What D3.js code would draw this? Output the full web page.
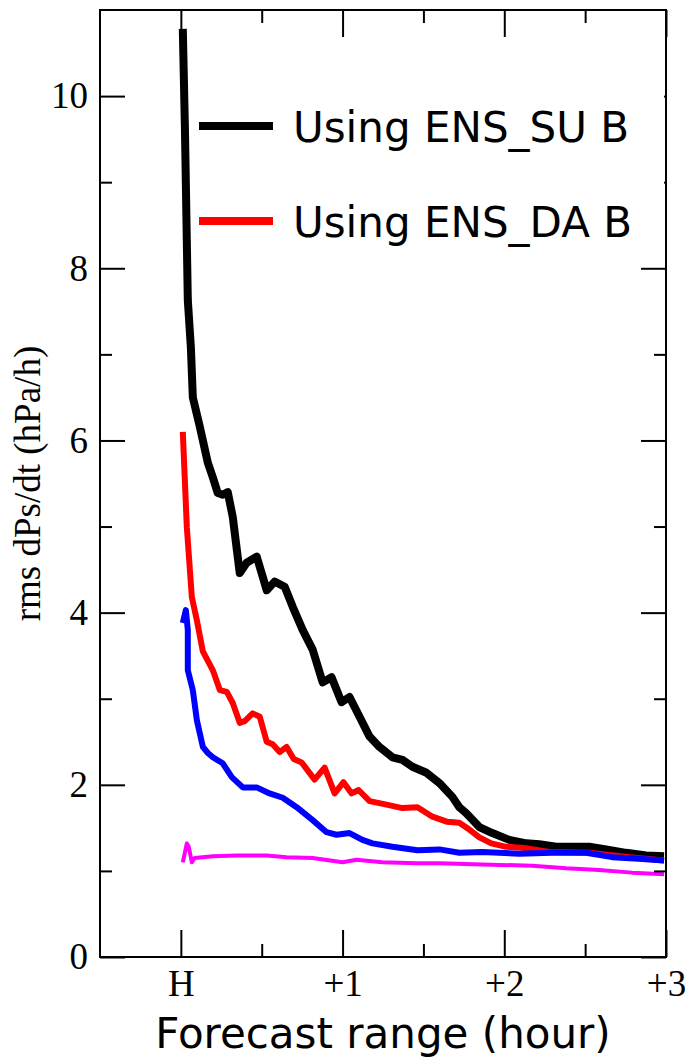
<!DOCTYPE html>
<html>
<head>
<meta charset="utf-8">
<script src="https://cdn.jsdelivr.net/npm/d3@7"></script>
<style>
  body { margin: 0; background: #fff; }
</style>
</head>
<body>
<div id="chart"></div>
<script>
// forecast time (hours after H) and rms dPs/dt (hPa/h)
var suHours = [0.012, 0.025, 0.043, 0.062, 0.074, 0.117, 0.167, 0.198, 0.228, 0.259, 0.29, 0.321, 0.364, 0.407, 0.469,
    0.531, 0.58, 0.642, 0.691, 0.753, 0.815, 0.877, 0.932, 0.994, 1.043, 1.105, 1.167, 1.228, 1.309, 1.37, 1.432,
    1.519, 1.599, 1.679, 1.722, 1.765, 1.846, 1.926, 2.031, 2.136, 2.216, 2.321, 2.525, 2.63, 2.753, 2.877, 2.988];
var suValues = [10.78, 9.64, 7.63, 7.08, 6.50, 6.16, 5.74, 5.57, 5.39, 5.37, 5.40, 5.11, 4.46, 4.58, 4.65,
    4.26, 4.36, 4.30, 4.07, 3.80, 3.57, 3.19, 3.25, 2.96, 3.02, 2.79, 2.56, 2.44, 2.32, 2.29, 2.21,
    2.14, 2.02, 1.86, 1.74, 1.67, 1.51, 1.44, 1.36, 1.32, 1.31, 1.28, 1.28, 1.25, 1.21, 1.18, 1.17];

var daHours = [0.012, 0.037, 0.068, 0.099, 0.136, 0.167, 0.198, 0.241, 0.284, 0.321, 0.364, 0.395, 0.444, 0.488,
    0.531, 0.568, 0.611, 0.654, 0.698, 0.747, 0.827, 0.889, 0.951, 1.006, 1.056, 1.099, 1.167, 1.272, 1.37, 1.463,
    1.556, 1.648, 1.722, 1.784, 1.846, 1.92, 2.012, 2.111, 2.278, 2.525, 2.772, 2.988];
var daValues = [6.10, 4.99, 4.18, 3.91, 3.55, 3.44, 3.33, 3.10, 3.08, 2.95, 2.72, 2.74, 2.83, 2.79,
    2.50, 2.47, 2.38, 2.44, 2.30, 2.26, 2.06, 2.20, 1.90, 2.03, 1.90, 1.94, 1.81, 1.77, 1.73, 1.74,
    1.63, 1.57, 1.56, 1.48, 1.39, 1.32, 1.28, 1.27, 1.22, 1.21, 1.16, 1.12];

var blueHours = [0.012, 0.031, 0.043, 0.043, 0.074, 0.099, 0.136, 0.167, 0.198, 0.259, 0.315, 0.383, 0.469, 0.549,
    0.63, 0.716, 0.815, 0.901, 0.963, 1.043, 1.123, 1.185, 1.309, 1.463, 1.599, 1.722, 1.864, 2.093, 2.296, 2.506,
    2.667, 2.833, 2.988];
var blueValues = [3.88, 4.03, 3.80, 3.33, 3.10, 2.75, 2.44, 2.37, 2.32, 2.25, 2.09, 1.97, 1.97, 1.90,
    1.85, 1.74, 1.59, 1.45, 1.42, 1.44, 1.36, 1.32, 1.28, 1.24, 1.25, 1.21, 1.22, 1.20, 1.21, 1.21,
    1.16, 1.14, 1.12];

var magentaHours = [0.012, 0.037, 0.049, 0.068, 0.086, 0.198, 0.346, 0.531, 0.654, 0.815, 1.0, 1.086, 1.247, 1.463,
    1.599, 1.969, 2.173, 2.383, 2.586, 2.79, 2.988];
var magentaValues = [1.10, 1.32, 1.28, 1.10, 1.15, 1.17, 1.18, 1.18, 1.16, 1.15, 1.10, 1.13, 1.10, 1.09,
    1.09, 1.07, 1.06, 1.03, 1.01, 0.98, 0.96];

var majorX = [0, 1, 2, 3];
var minorX = [0.5, 1.5, 2.5];
var xLabels = ["H", "+1", "+2", "+3"];
var majorY = [0, 2, 4, 6, 8, 10];
var minorY = [1, 3, 5, 7, 9];

var legendNames = ["Using ENS_SU B", "Using ENS_DA B"];

var series = [
    {hours: suHours, values: suValues, color: "#000000", width: 8},
    {hours: daHours, values: daValues, color: "#ff0000", width: 6},
    {hours: blueHours, values: blueValues, color: "#0000ff", width: 6},
    {hours: magentaHours, values: magentaValues, color: "#ff00ff", width: 4}
];

var margin = {top: 10, right: 19, bottom: 102, left: 100};
var width = 685 - margin.left - margin.right,
    height = 1059 - margin.top - margin.bottom;

var svg = d3.select("#chart").append("svg")
    .attr("width", 685)
    .attr("height", 1059);

var g = svg.append("g")
    .attr("transform", "translate(" + margin.left + "," + margin.top + ")");

var x = d3.scaleLinear().domain([-0.5, 3]).range([0, width]);
var y = d3.scaleLinear().domain([0, 11]).range([height, 0]);

var serif = "'Liberation Serif', 'Times New Roman', serif";
var sans = "'DejaVu Sans', sans-serif";

// curves
var line = d3.line()
    .x(function(d){ return x(d[0]); })
    .y(function(d){ return y(d[1]); });

series.forEach(function(s){
    var pts = s.hours.map(function(h, i){ return [h, s.values[i]]; });
    g.append("path")
        .datum(pts)
        .attr("fill", "none")
        .attr("stroke", s.color)
        .attr("stroke-width", s.width)
        .attr("stroke-linejoin", "round")
        .attr("d", line);
});

// axes, ticks pointing inward
function styleAxis(sel){
    sel.select(".domain").remove();
    sel.selectAll(".tick line").attr("stroke", "#000").attr("stroke-width", 2);
    sel.selectAll("text").attr("fill", "#000").style("font-family", serif).style("font-size", "37px");
}

g.append("g")
    .attr("transform", "translate(0," + height + ")")
    .call(d3.axisBottom(x).tickValues(majorX).tickSize(-27).tickPadding(13)
        .tickFormat(function(d, i){ return xLabels[i]; }))
    .call(styleAxis);
g.append("g")
    .attr("transform", "translate(0," + height + ")")
    .call(d3.axisBottom(x).tickValues(minorX).tickSize(-13).tickFormat(""))
    .call(styleAxis);
g.append("g")
    .call(d3.axisTop(x).tickValues(majorX).tickSize(-27).tickFormat(""))
    .call(styleAxis);
g.append("g")
    .call(d3.axisTop(x).tickValues(minorX).tickSize(-13).tickFormat(""))
    .call(styleAxis);

g.append("g")
    .call(d3.axisLeft(y).tickValues(majorY).tickSize(-25).tickPadding(12).tickFormat(d3.format("d")))
    .call(styleAxis);
g.append("g")
    .call(d3.axisLeft(y).tickValues(minorY).tickSize(-12).tickFormat(""))
    .call(styleAxis);
g.append("g")
    .attr("transform", "translate(" + width + ",0)")
    .call(d3.axisRight(y).tickValues(majorY).tickSize(-25).tickFormat(""))
    .call(styleAxis);
g.append("g")
    .attr("transform", "translate(" + width + ",0)")
    .call(d3.axisRight(y).tickValues(minorY).tickSize(-12).tickFormat(""))
    .call(styleAxis);

// legend (white box hides the right ticks behind it)
var legend = g.append("g");
legend.append("rect")
    .attr("x", 95).attr("y", 55)
    .attr("width", width - 97).attr("height", 196)
    .attr("fill", "#fff");
legendNames.forEach(function(name, i){
    var ly = 116 + i * 95;
    legend.append("line")
        .attr("x1", 99).attr("x2", 173)
        .attr("y1", ly).attr("y2", ly)
        .attr("stroke", series[i].color)
        .attr("stroke-width", 8);
    legend.append("text")
        .attr("x", 193).attr("y", ly + 16)
        .style("font-family", sans)
        .style("font-size", "42px")
        .text(name);
});

// frame
g.append("rect")
    .attr("width", width).attr("height", height)
    .attr("fill", "none")
    .attr("stroke", "#000")
    .attr("stroke-width", 2);

// axis titles
svg.append("text")
    .attr("x", margin.left + width / 2)
    .attr("y", 1048)
    .attr("text-anchor", "middle")
    .style("font-family", sans)
    .style("font-size", "42px")
    .text("Forecast range (hour)");

svg.append("text")
    .attr("transform", "translate(40," + (margin.top + height / 2) + ") rotate(-90)")
    .attr("text-anchor", "middle")
    .style("font-family", serif)
    .style("font-size", "37px")
    .text("rms dPs/dt (hPa/h)");
</script>
</body>
</html>
